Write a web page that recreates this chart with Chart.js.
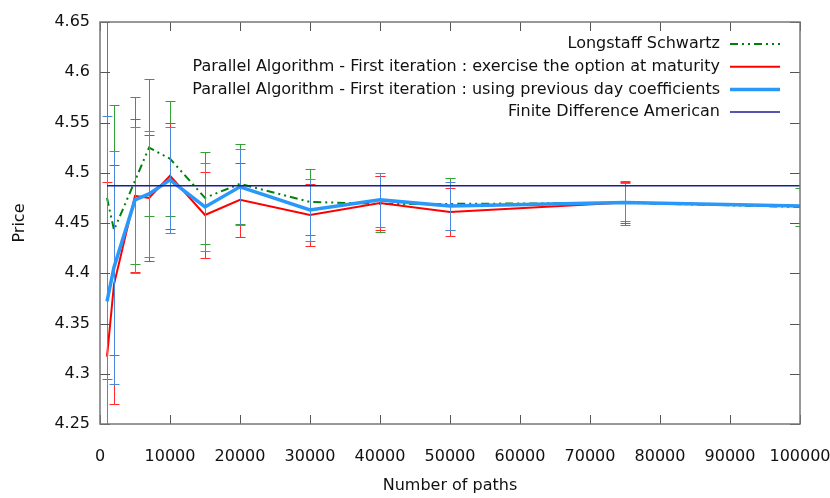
<!DOCTYPE html>
<html>
<head>
<meta charset="utf-8">
<script src="https://cdn.jsdelivr.net/npm/chart.js@4/dist/chart.umd.min.js"></script>
<style>
  html, body { margin: 0; padding: 0; background: #fff; }
  #wrap { width: 830px; height: 498px; }
</style>
</head>
<body>
<div id="wrap"><canvas id="chart" width="830" height="498"></canvas></div>
<script>
// Number of paths (x) for every series
const paths = [1000, 2000, 5000, 7000, 10000, 15000, 20000, 30000, 40000, 50000, 75000, 100000];

// Longstaff Schwartz
const lsPrice = [4.475, 4.443, 4.492, 4.525, 4.514, 4.475, 4.489, 4.471, 4.469, 4.469, 4.470, 4.466];
const lsErr   = [0.180, 0.124, 0.083, 0.068, 0.057, 0.046, 0.040, 0.033, 0.028, 0.026, 0.022, 0.0185];

// Parallel algorithm, exercise at maturity
const maturityPrice = [4.317, 4.389, 4.477, 4.475, 4.497, 4.458, 4.473, 4.458, 4.470, 4.461, 4.4705, 4.467];
const maturityErr   = [0.1735, 0.119, 0.076, 0.063, 0.053, 0.043, 0.037, 0.031, 0.027, 0.024, 0.0205, 0];

// Parallel algorithm, previous day coefficients
const prevDayPrice = [4.372, 4.406, 4.473, 4.479, 4.493, 4.466, 4.486, 4.463, 4.473, 4.467, 4.4705, 4.467];
const prevDayErr   = [0.184, 0.116, 0.073, 0.063, 0.053, 0.044, 0.038, 0.0305, 0.0266, 0.024, 0.019, 0];

// Finite difference reference price
const fdPrice = 4.487;

// Axis ticks
const xTicks = [0, 10000, 20000, 30000, 40000, 50000, 60000, 70000, 80000, 90000, 100000];
const yTicks = [4.25, 4.3, 4.35, 4.4, 4.45, 4.5, 4.55, 4.6, 4.65];

const FONT = "'DejaVu Sans', sans-serif";

const toPoints = ys => paths.map((x, i) => ({ x: x, y: ys[i] }));

// error bars drawn just before each line so layering follows dataset order
const errorBars = {
  id: "errorBars",
  beforeDatasetDraw(chart, args) {
    const ds = chart.data.datasets[args.index];
    if (!ds.errors) return;
    const { ctx, chartArea: a, scales: { x, y } } = chart;
    ctx.save();
    ctx.beginPath();
    ctx.rect(a.left, a.top, a.right - a.left, a.bottom - a.top);
    ctx.clip();
    ctx.strokeStyle = ds.barColor;
    ctx.lineWidth = 1;
    ds.data.forEach((p, i) => {
      const e = ds.errors[i];
      const px = Math.round(x.getPixelForValue(p.x)) + 0.5;
      const top = Math.round(y.getPixelForValue(p.y + e)) + 0.5;
      const bot = Math.round(y.getPixelForValue(p.y - e)) + 0.5;
      ctx.beginPath();
      ctx.moveTo(px, top);
      ctx.lineTo(px, bot);
      ctx.moveTo(px - 5, top);
      ctx.lineTo(px + 5, top);
      ctx.moveTo(px - 5, bot);
      ctx.lineTo(px + 5, bot);
      ctx.stroke();
    });
    ctx.restore();
  }
};

// gnuplot style frame with inward ticks on all four sides
const frame = {
  id: "frame",
  afterDatasetsDraw(chart) {
    const { ctx, chartArea: a, scales: { x, y } } = chart;
    ctx.save();
    ctx.strokeStyle = "#555";
    ctx.lineWidth = 1;
    ctx.beginPath();
    x.ticks.forEach(t => {
      const px = Math.round(x.getPixelForValue(t.value)) + 0.5;
      ctx.moveTo(px, a.bottom);
      ctx.lineTo(px, a.bottom - 9);
      ctx.moveTo(px, a.top);
      ctx.lineTo(px, a.top + 9);
    });
    y.ticks.forEach(t => {
      const py = Math.round(y.getPixelForValue(t.value)) + 0.5;
      ctx.moveTo(a.left, py);
      ctx.lineTo(a.left + 10, py);
      ctx.moveTo(a.right, py);
      ctx.lineTo(a.right - 10, py);
    });
    ctx.stroke();
    ctx.strokeStyle = "#777";
    ctx.lineWidth = 1.5;
    ctx.strokeRect(a.left, a.top, a.right - a.left, a.bottom - a.top);
    ctx.restore();
  }
};

// legend in the top right corner, text right aligned with the sample after it
const keyBox = {
  id: "keyBox",
  afterDraw(chart) {
    const ctx = chart.ctx;
    ctx.save();
    ctx.font = "16px " + FONT;
    ctx.textAlign = "right";
    ctx.textBaseline = "middle";
    chart.data.datasets.forEach((ds, i) => {
      const yy = 44 + i * 22.7;
      ctx.fillStyle = "#111";
      ctx.fillText(ds.label, 720, yy);
      ctx.strokeStyle = ds.borderColor;
      ctx.lineWidth = ds.borderWidth;
      ctx.setLineDash(ds.borderDash || []);
      ctx.beginPath();
      ctx.moveTo(730, yy);
      ctx.lineTo(780, yy);
      ctx.stroke();
    });
    ctx.restore();
  }
};

new Chart(document.getElementById("chart"), {
  type: "line",
  data: {
    datasets: [
      {
        label: "Longstaff Schwartz",
        data: toPoints(lsPrice),
        errors: lsErr,
        barColor: "#35a035",
        borderColor: "#00820a",
        borderWidth: 2,
        borderDash: [8, 4, 2, 4, 2, 4],
        order: 3
      },
      {
        label: "Parallel Algorithm - First iteration : exercise the option at maturity",
        data: toPoints(maturityPrice),
        errors: maturityErr,
        barColor: "#ff2a2a",
        borderColor: "#ff0000",
        borderWidth: 2,
        order: 2
      },
      {
        label: "Parallel Algorithm - First iteration : using previous day coefficients",
        data: toPoints(prevDayPrice),
        errors: prevDayErr,
        barColor: "#4a88e0",
        borderColor: "#2a98f8",
        borderWidth: 3.5,
        order: 1
      },
      {
        label: "Finite Difference American",
        data: paths.map(x => ({ x: x, y: fdPrice })),
        borderColor: "#1c1c96",
        borderWidth: 1.5,
        order: 0
      }
    ]
  },
  options: {
    responsive: false,
    animation: false,
    events: [],
    layout: { autoPadding: false, padding: { top: 22, right: 30, left: 0, bottom: 0 } },
    elements: { point: { radius: 0 }, line: { tension: 0, fill: false } },
    plugins: { legend: { display: false }, tooltip: { enabled: false } },
    scales: {
      x: {
        type: "linear",
        min: 0,
        max: 100000,
        afterBuildTicks: s => { s.ticks = xTicks.map(v => ({ value: v })); },
        afterFit: s => { s.height = 74; s.paddingLeft = 0; s.paddingRight = 0; },
        grid: { display: false, drawTicks: false },
        border: { display: false },
        ticks: { padding: 23, maxRotation: 0, autoSkip: false, color: "#111", font: { family: FONT, size: 16 }, callback: v => String(v) },
        title: { display: true, text: "Number of paths", color: "#111", font: { family: FONT, size: 16 }, padding: { top: 0, bottom: 3 } }
      },
      y: {
        min: 4.25,
        max: 4.65,
        afterBuildTicks: s => { s.ticks = yTicks.map(v => ({ value: v })); },
        afterFit: s => { s.width = 100; s.paddingTop = 0; s.paddingBottom = 0; },
        grid: { display: false, drawTicks: false },
        border: { display: false },
        ticks: { padding: 10, color: "#111", font: { family: FONT, size: 16 }, callback: v => String(+v.toFixed(2)) },
        title: { display: true, text: "Price", color: "#111", font: { family: FONT, size: 16 }, padding: { top: 10, bottom: 0 } }
      }
    }
  },
  plugins: [errorBars, frame, keyBox]
});
</script>
</body>
</html>
